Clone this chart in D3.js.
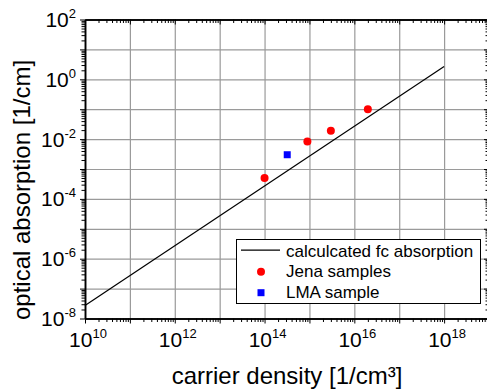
<!DOCTYPE html>
<html>
<head>
<meta charset="utf-8">
<script src="https://cdn.jsdelivr.net/npm/d3@7"></script>
<style>
  html, body { margin: 0; padding: 0; background: #fff; }
  svg { display: block; }
  text { font-family: "Liberation Sans", Arial, Helvetica, sans-serif; fill: #000; }
</style>
</head>
<body>
<svg id="chart" width="487" height="390"></svg>
<script>
// Calculated free-carrier absorption (straight line on log-log axes)
const fitDensity = [1e10, 1e18];
const fitAbsorption = [2.7e-8, 2.7];

// Measured samples
const jenaDensity = [1e14, 9e14, 3e15, 2e16];
const jenaAbsorption = [5e-4, 8.3e-3, 1.9e-2, 0.1];
const lmaDensity = [3.2e14];
const lmaAbsorption = [3e-3];

// Labelled decades
const xTickExponents = [10, 12, 14, 16, 18];
const yTickExponents = [-8, -6, -4, -2, 0, 2];

// Legend entries
const legendLabels = ["calculcated fc absorption", "Jena samples", "LMA sample"];

const svg = d3.select("#chart");
const plotLeft = 85, plotRight = 489, plotTop = 19.5, plotBottom = 318.5;

const x = d3.scaleLog().domain([1e10, 1e19]).range([plotLeft, plotRight]);
const y = d3.scaleLog().domain([1e-8, 1e2]).range([plotBottom, plotTop]);

const xDecades = d3.range(10, 20).map(e => Math.pow(10, e));
const yDecades = d3.range(-8, 3).map(e => Math.pow(10, e));
const xMinor = [], yMinor = [];
d3.range(10, 19).forEach(e => { for (let m = 2; m <= 9; m++) xMinor.push(m * Math.pow(10, e)); });
d3.range(-8, 2).forEach(e => { for (let m = 2; m <= 9; m++) yMinor.push(m * Math.pow(10, e)); });

// Grid lines at every decade
svg.append("g")
  .attr("transform", `translate(0,${plotBottom})`)
  .call(d3.axisBottom(x).tickValues(xDecades).tickSize(-(plotBottom - plotTop)).tickFormat(""))
  .call(g => g.select(".domain").remove())
  .call(g => g.selectAll("line").attr("stroke", "#9a9a9a").attr("stroke-width", 1.2));
svg.append("g")
  .attr("transform", `translate(${plotLeft},0)`)
  .call(d3.axisLeft(y).tickValues(yDecades).tickSize(-(plotRight - plotLeft)).tickFormat(""))
  .call(g => g.select(".domain").remove())
  .call(g => g.selectAll("line").attr("stroke", "#9a9a9a").attr("stroke-width", 1.2));

// Frame axes with tick marks
function styleAxis(g) {
  g.select(".domain").attr("stroke", "#000").attr("stroke-width", 1.5);
  g.selectAll(".tick line").attr("stroke", "#000").attr("stroke-width", 1);
}
// bottom: outward ticks
svg.append("g").attr("transform", `translate(0,${plotBottom})`)
  .call(d3.axisBottom(x).tickValues(xMinor).tickSize(3.5).tickSizeOuter(0).tickFormat(""))
  .call(styleAxis);
svg.append("g").attr("transform", `translate(0,${plotBottom})`)
  .call(d3.axisBottom(x).tickValues(xDecades).tickSize(5).tickSizeOuter(0).tickFormat(""))
  .call(styleAxis);
// top: inward ticks
svg.append("g").attr("transform", `translate(0,${plotTop})`)
  .call(d3.axisTop(x).tickValues(xMinor).tickSize(-3.5).tickSizeOuter(0).tickFormat(""))
  .call(styleAxis);
svg.append("g").attr("transform", `translate(0,${plotTop})`)
  .call(d3.axisTop(x).tickValues(xDecades).tickSize(-5).tickSizeOuter(0).tickFormat(""))
  .call(styleAxis);
// left: outward ticks
svg.append("g").attr("transform", `translate(${plotLeft},0)`)
  .call(d3.axisLeft(y).tickValues(yMinor).tickSize(3.5).tickSizeOuter(0).tickFormat(""))
  .call(styleAxis);
svg.append("g").attr("transform", `translate(${plotLeft},0)`)
  .call(d3.axisLeft(y).tickValues(yDecades).tickSize(5).tickSizeOuter(0).tickFormat(""))
  .call(styleAxis);
// right: inward ticks
svg.append("g").attr("transform", `translate(${plotRight},0)`)
  .call(d3.axisRight(y).tickValues(yMinor).tickSize(-3.5).tickSizeOuter(0).tickFormat(""))
  .call(styleAxis);
svg.append("g").attr("transform", `translate(${plotRight},0)`)
  .call(d3.axisRight(y).tickValues(yDecades).tickSize(-5).tickSizeOuter(0).tickFormat(""))
  .call(styleAxis);

// Power-of-ten tick labels
function powerLabel(sel, exp) {
  sel.append("tspan").attr("font-size", 21).text("10");
  sel.append("tspan").attr("font-size", 13).attr("dy", -9).text(exp);
}
xTickExponents.forEach(e => {
  svg.append("text")
    .attr("x", x(Math.pow(10, e)) + 3)
    .attr("y", 346.5)
    .attr("text-anchor", "middle")
    .call(powerLabel, e);
});
yTickExponents.forEach(e => {
  svg.append("text")
    .attr("x", 76)
    .attr("y", y(Math.pow(10, e)) + 7.5)
    .attr("text-anchor", "end")
    .call(powerLabel, e);
});

// Axis titles
svg.append("text")
  .attr("x", (plotLeft + plotRight) / 2)
  .attr("y", 384)
  .attr("text-anchor", "middle")
  .attr("font-size", 24)
  .text("carrier density [1/cm³]");
svg.append("text")
  .attr("transform", `translate(30,190) rotate(-90)`)
  .attr("text-anchor", "middle")
  .attr("font-size", 24)
  .text("optical absorption [1/cm]");

// Calculated absorption line
const line = d3.line().x(d => x(d[0])).y(d => y(d[1]));
svg.append("path")
  .datum(d3.zip(fitDensity, fitAbsorption))
  .attr("d", line)
  .attr("fill", "none")
  .attr("stroke", "#000")
  .attr("stroke-width", 1.2);

// Jena samples
svg.append("g").selectAll("circle")
  .data(d3.zip(jenaDensity, jenaAbsorption))
  .join("circle")
  .attr("cx", d => x(d[0]))
  .attr("cy", d => y(d[1]))
  .attr("r", 4)
  .attr("fill", "#ff0000");

// LMA sample
const sq = 7;
svg.append("g").selectAll("rect")
  .data(d3.zip(lmaDensity, lmaAbsorption))
  .join("rect")
  .attr("x", d => x(d[0]) - sq / 2)
  .attr("y", d => y(d[1]) - sq / 2)
  .attr("width", sq)
  .attr("height", sq)
  .attr("fill", "#0000ff");

// Legend
const lg = svg.append("g");
lg.append("rect")
  .attr("x", 236.5).attr("y", 239.5)
  .attr("width", 244).attr("height", 64)
  .attr("fill", "#fff").attr("stroke", "#000").attr("stroke-width", 1);
const rowBase = [256.7, 277.2, 297.7];
lg.append("line")
  .attr("x1", 241).attr("x2", 280)
  .attr("y1", rowBase[0] - 6.5).attr("y2", rowBase[0] - 6.5)
  .attr("stroke", "#000").attr("stroke-width", 1.2);
lg.append("circle")
  .attr("cx", 261).attr("cy", rowBase[1] - 5.5).attr("r", 4)
  .attr("fill", "#ff0000");
lg.append("rect")
  .attr("x", 261 - sq / 2).attr("y", rowBase[2] - 5 - sq / 2)
  .attr("width", sq).attr("height", sq)
  .attr("fill", "#0000ff");
legendLabels.forEach((t, i) => {
  lg.append("text")
    .attr("x", 286).attr("y", rowBase[i])
    .attr("font-size", 17)
    .text(t);
});
</script>
</body>
</html>
